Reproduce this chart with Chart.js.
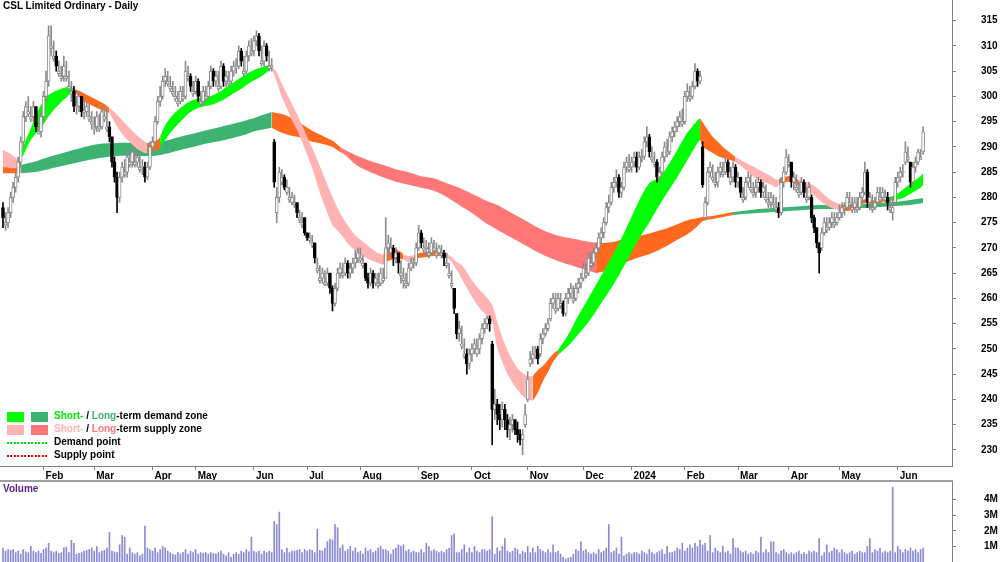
<!DOCTYPE html>
<html><head><meta charset="utf-8">
<script src="https://cdn.jsdelivr.net/npm/chart.js@4.4.1/dist/chart.umd.min.js"></script>
<style>
html,body{margin:0;padding:0;background:#fff;}
#wrap{position:relative;width:1000px;height:562px;overflow:hidden;font-family:"Liberation Sans",Arial,sans-serif;}
canvas{position:absolute;left:0;}
.t{position:absolute;font-weight:bold;font-size:10px;line-height:12px;white-space:nowrap;color:#000;}
.sw{position:absolute;width:17px;height:10px;}
.dl{position:absolute;width:40px;height:2px;}
</style></head>
<body><div id="wrap">
<canvas id="main" width="1000" height="481" style="top:0px;width:1000px;height:481px"></canvas>
<canvas id="vol" width="1000" height="80" style="top:482px;width:1000px;height:80px"></canvas>
<div style="position:absolute;left:0;top:480px;width:953px;height:2px;background:#a0a0a0"></div>
<div class="t" style="left:3px;top:0px">CSL Limited Ordinary - Daily</div>
<div class="t" style="left:3px;top:483px;color:#5b1e8c">Volume</div>
<div class="sw" style="left:7px;top:412px;background:#00ff00"></div>
<div class="sw" style="left:31px;top:412px;background:#3cb371"></div>
<div class="t" style="left:54px;top:410px"><span style="color:#00e600">Short-</span> / <span style="color:#3cb371">Long</span>-term demand zone</div>
<div class="sw" style="left:7px;top:425px;background:#ffb3b3"></div>
<div class="sw" style="left:31px;top:425px;background:#ff7777"></div>
<div class="t" style="left:54px;top:423px"><span style="color:#ffb3b3">Short-</span> / <span style="color:#ff7777">Long</span>-term supply zone</div>
<div class="dl" style="left:7px;top:442px;background:repeating-linear-gradient(90deg,#00e600 0 2px,transparent 2px 3.5px)"></div>
<div class="t" style="left:54px;top:436px">Demand point</div>
<div class="dl" style="left:7px;top:455px;background:repeating-linear-gradient(90deg,#ff0000 0 2px,transparent 2px 3.5px)"></div>
<div class="t" style="left:54px;top:449px">Supply point</div>
</div>
<script>
// ---- daily prices (trading-day index 0 = mid Jan 2023) ----
const opens = [
278,274.5,275,277,280,282,284,287,291,296,
296.5,295.5,296,298,292.8,293,296,300,303,309.5,
307.5,308,304.5,303.5,304,303.5,301.5,300.5,301,298,
298,300,297,297,295.5,294.5,293.5,294,293.5,294,
295.5,293.5,294,292,287,284,280,284,284.5,285,
286.5,287,286.5,287,285.5,286,286,284,286,290,
291,295,299,300,303,302.5,301.5,300.5,299.5,298.5,
299,299.5,300,303.5,304,300.5,301,303,298.5,299,
299.5,300,302,305,303,301.5,302,306,303,302.5,
303,305,306,306,309,304.5,305,308,308.5,309,
311,312,306.5,307,310,305.5,306,291,277,280,
283,284,281,279.5,279,278.5,279,275.5,274.5,276,
273,271.5,270.5,271,265.5,263.5,264,262.8,263,265,
262,259,262,265,264.5,265,267,265,266,267,
268,267.5,266.5,267,264,263,265,263,262.5,263,
263.5,264,270,269,270,268,269,264.5,263.5,262.5,
263,266,267,267,270,273,269.5,270,268.5,269,
269.5,268.5,269,268.5,269,266.5,264.5,262.5,262,257,
253,250.5,248.5,249,247,249,250,249,250,252,
254,255,256,251,238,239,237,236,238,236,
234,235,236,234,233,232,235,240,247,248,
249,250,249,252,253,254,256,259,257.5,258,
258.5,259,257,260,261,259.5,260,262,263,264,
264.5,265,266.5,267,269,270,272,273,275,278,
279,282,283,284,281,282,286,285.5,286,287,
288,286,288,288,291,292,287.5,286.5,287,284,
285,288,288.5,289,292,293,294,295,294.5,295,
300,299.5,300,302,305,303,290,276,279,285,
283.5,282.5,283,285,284.5,285,287,283,284,286,
283,284,279.5,280,283,281.5,280.5,281,282,283,
281,279.5,278.5,279,278.5,277.5,278,277,283,285,
286.5,287,283,281.5,280.5,281,283,279.5,280,280,
276,274,271,270,273,273.5,274,275,274.5,275,
276,277,278,278,278.5,277.5,278,277.5,278,280,
281,285,279,277.5,278,279,279.5,280,279.5,280,
277.5,277,279,283,284,285,287,287.5,287,283,
286,287,287.5,289];
const highs = [
279,277,278,281,283,285,288,292,297,299,
300,298,299,298,295,297,301,305,314,314,
311,309,307,306,308,307,305,303,302,300,
301,300,299,299,298.5,297,296,297,296.5,298,
298,297,295,292,288,285,285,287,287.5,289,
289,290,289.5,289,288.5,287.5,287,287,291,292,
296,300,302,304,305.5,305,304,303,302,301,
302,302,307,306,304.5,303,304,303.5,301,302,
302,303,306,305.5,305,305,307,306.5,305,305,
306,307,307.5,310,309.5,308,309,311,311.5,312,
313,312.5,310,311,310.5,309,307.5,291.5,282,286,
285.5,284.5,283.5,282,281,280.5,279,277.5,277,276,
273,273,272.5,271,268,266.5,266,265.5,266,265,
262.5,263,266,267,267,268,267.5,267,268,269.5,
270,270,268.5,267,265,266,265.5,265,265,266,
266,276,272.5,272,270.5,270,269,267.5,266,265,
267,268,268,271,274.5,273.5,272,271.5,271,272,
271.5,271,270.5,270.5,269.5,269,267,265.5,262,257,
255.5,254.5,252,250,250,251,252,252,253,255,
256,256.5,256.5,251.5,242,240,239,239.5,239,237,
236.5,237,236,235.5,234,234,239,245.5,249.5,250.5,
250.5,250.5,253,254,255,256,260,261,261,261,
261,259.5,261,262,263,262.5,263,264,265,267,
267,269,269,270,271,273,274,276,279,280.5,
283,284,285.5,284.5,283,287,288,288.5,288,289,
289,289,289.5,292,294,292.5,290,289,287.5,286,
289,291,291.5,293,294,295,296,297,297.5,301,
302.5,302,303,306.5,305.5,305,291,280,286,287,
286.5,285,286,287,287,288,287.5,286,287,286.5,
285,284,282,284,285,284.5,283,283.5,284,283.5,
283,282.5,281,281,280.5,280,279,284,286,289.5,
288.5,287,285,284.5,283,284,283.5,282,283,280.5,
276.5,274,271,274,276,276,276,277,277,277,
278.5,279,279,281,281,280,280,280,281,282,
287,285.5,281,280.5,280,282,282,282,281.5,281,
280,280,284,285,286,286.5,291,290,287,287,
288,289.5,289.5,294];
const lows = [
274,273.5,274,276,279,281,283,286,290,295,
296,295,295,293,292.5,292,295,299,302,308,
307,305,304,303,303,303,301,299,297,296.5,
297,296,295.5,296,295,293.5,292.5,293,293,293.5,
295,293,291,286,283,277,279,283,284,284,
286,286,286,286,285,284.5,283,283.5,285.5,289,
290.5,294.5,298,299.5,302,302,301,300,299,298,
298.5,299,299.5,303,301,300,300.5,299,298,298.5,
299,299.5,301.5,302,302,301,301.5,302,302,302,
302.5,304,304.5,305.5,306,304,304.5,307,308,308,
310,308,306,306,307,305,305,282,275,279,
282.5,281.5,280.5,279,278.5,278,276,275,274,272.5,
271.5,271,270,267,265,263,263,262.5,262.5,261,
257.5,258.5,261.5,264,264,264.5,264,264,265,266,
267,267,266,263.5,262,262.5,262,262.5,262,262.5,
263,264,269,268.5,266.5,267,265,263,262,262,
262.5,265.5,266,266.5,269.5,270,269,268.5,268,268.5,
269,268,268.5,268,266.5,266,264,262,257,252,
251.5,250,248,245,246,247.5,249,248.5,249,251,
253,254,253.5,231,236,235,234,234.5,234,232.5,
232,233.5,233,231.5,231,229,234.5,239.5,246.5,247,
248,247,248.5,251,252.5,253.5,255.5,258,257,257.5,
258,256.5,256.5,259,260,259,259.5,261,262,263.5,
264,264.5,266,266.5,268,269.5,271,272,274.5,277,
278.5,281,282,280,280,281.5,285,285,285,286,
285,285.5,287,287.5,290,288,287,286,283,283,
284.5,287,288,288.5,291,292,293,294,294,294.5,
299,299,299.5,301.5,302,302.5,282,275.5,278.5,284,
283,282,282,284,284,284.5,284,282.5,283,282,
282,280,279,279.5,282,281,280,280,281,280,
280,279,278,278,278,277,276,276.5,282,284.5,
286,282,281.5,281,280,280.5,280,279,279.5,275,
273,270,265,269.5,272.5,273,273.5,274,274,274.5,
275.5,276,276.5,277.5,278,277,277,277,277.5,279,
280.5,278,277.5,277,277.5,278.5,279,279.5,279,277.5,
277,275.5,278.5,282,283,284,286.5,287,282,282.5,
285,286.5,287.5,288.5];
const closes = [
276,275,277,280,282,284,287,291,296,298,
297,296,298,294,293,296,300,303,312,310,
308,306,305,304,306,304,302,301,298,298,
300,297,297,298,296,295,294,296,294,297,
296,294,292,287,284,280,284,286,285,288,
287,289,287,288,286,286,284,286,290,291,
295,299,300,303,304,303,302,301,300,299,
301,300,305,304,302,301,303,300,299,301,
300,302,305,303,304,302,306,303,304,303,
305,306,306,309,307,305,308,310,309,311,
312,309,307,310,308,306,306,283,280,285,
284,282,282,280,280,279,277,276,275,273,
272,272,271,268,266,264,265,263,265,262,
259,262,265,266,265,267,265,266,267,268,
269,268,267,264,263,265,263,264,263,265,
264,270,271,270,268,269,267,265,264,263,
266,267,267,270,273,271,270,270,269,271,
270,269,270,269,268,267,265,263,258,253,
254,251,249,247,249,250,251,250,252,254,
255,256,255,238,239,237,236,238,236,234,
235,236,234,233,232,233,237,244,248,249,
249,248,252,253,254,255,259,260,258,260,
259,257,260,261,262,260,262,263,264,266,
265,268,267,269,270,272,273,275,278,279,
282,283,284,281,282,286,287,286,287,288,
286,288,288,291,292,289,288,287,284,285,
288,290,289,292,293,294,295,296,295,300,
301,300,302,305,303,304,282.5,279,285,286,
284,283,285,286,285,287,285,284,286,283,
284,281,280,283,284,282,281,282,283,281,
282,280,279,280,279,278,277,283,285,288,
287,283,284,282,281,283,281,280,282,276,
274,271,269,273,275,274,275,276,275,276,
277,278,278,280,279,278,279,278,280,281,
285,279,280,278,279,281,280,281,280,279,
278,278,283,284,285,285,289,288,283,286,
287,289,288,293];
// ---- daily volume, millions of shares ----
const volumesM = [
0.9,0.7,0.8,0.75,0.8,0.6,0.7,0.5,0.8,0.65,
0.6,1.0,0.7,0.6,0.7,0.55,0.8,0.9,1.2,0.7,
0.6,0.7,0.55,0.6,0.9,0.95,0.6,1.4,1.2,0.5,
0.55,0.6,0.7,0.75,0.8,0.9,0.7,1.0,0.6,0.7,
0.75,0.9,1.9,0.7,0.65,0.6,1.1,1.7,1.6,0.5,
0.9,0.6,0.5,0.6,0.4,0.5,2.3,0.9,0.8,0.7,
0.9,0.6,0.8,1.0,0.9,0.7,0.6,0.5,0.45,0.6,
0.5,0.6,0.8,0.5,0.7,0.6,0.8,0.5,0.6,0.55,
0.6,0.5,0.6,0.55,0.5,0.6,0.7,0.5,0.4,0.6,
0.3,0.5,0.6,0.5,0.7,0.6,0.8,0.65,1.6,0.7,
0.6,0.7,0.5,0.7,0.6,0.7,0.6,2.6,2.4,3.2,
0.8,0.6,0.9,0.6,0.7,0.7,0.75,0.8,0.6,0.8,
0.7,0.8,0.75,0.6,2.1,0.75,0.7,0.9,1.3,1.45,
1.4,2.4,2.2,0.9,1.1,0.7,0.8,1.0,0.7,0.9,
0.6,0.7,0.5,0.9,0.7,0.8,0.6,0.7,0.9,1.0,
0.8,0.8,0.7,0.5,0.8,0.9,1.1,1.0,1.1,0.7,
0.8,0.6,0.7,0.6,0.6,0.8,0.6,1.2,1.0,0.7,
0.8,0.7,0.6,0.7,0.6,0.8,0.9,1.7,1.8,0.6,
0.6,0.8,1.1,0.6,0.9,0.6,1.0,0.7,0.6,0.8,
0.8,0.7,0.8,2.9,0.5,0.9,0.7,1.0,1.5,0.7,
0.6,0.7,0.9,0.8,0.5,0.7,0.6,1.0,0.6,0.9,
0.6,1.0,0.8,0.7,0.6,0.8,0.6,1.1,0.6,0.7,
0.5,0.3,0.2,0.25,0.3,0.5,0.8,0.7,1.3,0.7,
0.8,0.6,0.5,0.6,0.5,0.8,0.6,0.7,0.9,2.4,
0.6,0.7,0.9,0.5,1.6,0.4,0.5,0.6,0.5,0.6,
0.6,0.5,0.7,0.6,0.5,0.8,0.6,0.5,0.6,0.7,
0.8,0.5,1.0,0.6,0.6,0.7,0.9,0.8,1.2,0.7,
0.9,1.1,0.9,1.2,1.0,1.4,1.1,1.2,0.7,1.7,
0.6,0.9,0.7,0.6,1.0,0.6,0.7,0.5,1.5,0.9,
0.9,0.7,0.6,0.7,0.5,0.6,0.5,0.7,0.6,1.6,
0.6,0.8,0.6,1.3,1.3,0.6,0.5,0.7,0.8,0.6,
0.5,0.6,0.5,0.6,0.7,0.5,0.6,0.5,0.7,0.6,
0.7,0.6,1.5,0.4,0.6,1.1,0.6,0.7,0.9,0.8,
0.6,0.8,0.6,0.5,0.6,0.7,0.5,0.6,0.7,0.6,
0.6,1.0,1.5,0.6,0.8,0.7,0.9,0.6,0.7,0.6,
0.7,4.8,0.6,1.0,0.8,0.6,0.8,0.7,0.9,0.7,
0.8,0.6,0.8,0.9];
// ---- month ticks ----
const monthTickIdx = [16,36,59,76,99,120,141,164,185,207,229,248,269,290,310,330,353];
const monthLabels = ['Feb','Mar','Apr','May','Jun','Jul','Aug','Sep','Oct','Nov','Dec','2024','Feb','Mar','Apr','May','Jun'];
const volumeTicks = [1,2,3,4];
// ---- short-term zone ribbon (edges) ----
const shortIdx = [0,3,5,6,7,9,11,13,15,17,20,23,26,28,31,34,37,40,42,44,47,50,53,56,57,59,61,62,64,67,70,74,78,82,86,90,94,98,102,105,106,108,110,112,114,116,118,120,122,124,126,128,130,133,136,139,142,145,148,150,151,153,155,157,158,160,162,164,167,170,173,175,177,179,181,185,188,191,193,195,197,199,201,203,205,207,209,211,213,215,217,219,223,227,231,235,239,243,247,251,255,259,262,266,270,274,275,276,278,280,282,284,286,288,289,291,294,297,300,303,305,306,308,310,312,314,316,318,320,322,324,326,328,330,331,333,335,337,339,341,343,345,348,350,352,354,356,358,360,362,363];
const shortUpper = [289.4,288.6,287.8,287.4,289.0,291.4,293.7,296.3,298.3,299.9,300.9,301.5,301.9,301.5,300.9,300.1,299.3,298.5,297.7,296.9,295.3,293.7,292.2,291.0,290.6,291.2,291.4,292.0,294.3,296.3,297.7,299.1,299.7,300.1,301.1,302.5,303.8,305.0,305.8,306.2,306.0,304.8,302.5,300.5,298.5,296.5,294.3,292.0,289.8,287.4,285.0,282.5,280.1,276.9,274.5,272.5,271.2,270.0,269.0,268.6,269.8,270.2,269.8,269.2,268.7,268.4,268.5,269.0,269.2,269.4,269.2,268.8,268.2,267.2,266.6,263.6,261.7,260.1,258.7,255.3,252.2,249.8,247.8,246.2,245.2,244.6,244.6,245.8,246.6,247.8,249.0,249.8,252.8,256.6,260.1,263.6,267.2,270.9,275.1,279.4,282.8,284.0,286.0,289.4,292.8,295.3,295.7,294.9,293.4,292.0,291.0,290.0,289.2,288.4,288.0,287.4,286.6,285.8,285.0,284.2,283.5,283.6,284.0,284.2,284.0,283.4,283.2,282.8,282.3,281.5,280.5,279.7,279.1,278.7,278.6,278.5,278.7,278.9,279.5,279.7,279.5,279.3,279.7,280.1,280.5,281.1,281.9,282.7,283.5,284.2,284.8];
const shortLower = [286.0,285.8,285.8,286.2,287.4,289.4,291.4,292.7,293.7,295.3,297.3,298.9,300.3,301.1,299.3,298.5,297.7,297.1,296.7,294.9,292.6,290.9,289.6,288.8,288.8,289.2,289.4,290.0,291.4,293.4,295.0,296.9,297.9,298.3,299.1,300.3,301.5,302.9,304.0,305.2,305.6,302.9,299.9,297.7,295.3,293.4,291.0,288.4,285.8,282.5,279.5,276.9,274.5,272.9,270.9,269.4,268.4,267.6,267.0,266.6,267.2,267.6,267.8,267.8,267.7,267.2,267.5,268.0,268.2,268.4,268.4,268.2,267.2,265.6,263.9,260.3,258.1,256.5,255.3,250.1,247.4,245.0,243.3,241.9,240.7,239.9,239.7,241.3,243.6,245.4,247.4,248.8,250.6,252.9,255.3,258.3,261.3,264.6,268.2,271.9,275.1,278.5,280.9,284.0,287.4,290.8,291.4,290.2,289.4,288.8,288.2,287.8,287.6,287.2,287.0,286.2,285.0,283.8,283.1,282.5,282.0,282.4,282.9,283.1,282.9,282.2,281.7,281.1,280.5,279.5,278.7,278.1,277.7,277.5,277.4,277.3,277.5,277.9,278.7,278.9,278.7,278.7,279.3,279.3,279.5,279.7,280.1,280.7,281.3,281.9,282.5];
const shortZoneStart = [0,6,28,42,57,62,106,150,158,162,175,209,219,275,289,306,314,331,348];
const shortZoneCode  = ['P','G','O','P','O','G','P','O','P','O','P','O','G','O','P','O','P','O','G'];
// ---- long-term zone ribbon ----
const longIdx = [0,4,7,12,18,25,32,38,45,52,58,62,70,78,86,94,100,106,110,114,118,122,126,130,133,135,140,145,150,155,160,165,170,175,180,185,190,195,200,205,210,215,220,225,230,234,238,242,246,250,254,258,262,266,270,274,276,280,284,288,292,298,304,310,316,322,328,334,340,346,352,358,363];
const longUpper = [286.8,286.7,286.4,287.0,288.0,289.0,290.0,290.6,290.8,290.8,290.8,291.0,292.0,293.0,294.0,295.0,295.9,296.9,296.5,295.7,294.5,293.2,292.2,291.2,290.0,289.4,288.2,287.2,286.4,285.6,285.0,284.2,283.8,282.8,281.9,280.7,279.5,278.5,277.1,275.7,274.3,273.1,272.3,271.8,271.3,271.0,271.0,271.3,271.9,272.3,272.7,273.3,273.9,274.7,275.5,275.9,276.1,276.3,276.7,277.1,277.3,277.7,277.9,278.1,278.3,278.5,278.5,278.5,278.7,278.9,279.1,279.5,279.9];
const longLower = [284.8,284.8,284.8,285.0,285.6,286.4,287.2,287.8,288.2,288.2,288.2,288.4,289.4,290.4,291.2,292.2,293.2,293.8,292.8,292.2,291.8,291.0,290.6,290.0,289.0,288.4,286.2,285.0,284.0,283.1,282.5,281.9,281.3,280.1,278.5,276.9,275.1,273.6,272.2,270.8,269.4,268.2,267.2,266.4,265.6,265.0,265.4,266.2,267.2,268.0,268.6,269.4,270.4,271.6,272.7,274.3,275.3,275.7,276.1,276.5,276.7,276.9,277.1,277.3,277.5,277.7,277.7,277.9,277.9,278.1,278.3,278.5,278.9];
const longZoneStart = [0,7,106,133,234,288];
const longZoneCode  = ['O','G','O','S','O','G'];

// ---- styling ----
const shortColors = {G:'#00ff00', P:'#ffb3b3', O:'#ff6a1f'};
const longColors  = {G:'#3cb371', S:'#ff7777', O:'#ff6a1f'};
const X_MIN = -1.18, X_MAX = 374.4;
const FONT = {family:"'Liberation Sans', Arial, sans-serif", size:10, weight:'bold'};
Chart.defaults.font.family = FONT.family;

function zoneAt(x, starts, codes){ let c = codes[0]; for (let k=0;k<starts.length;k++){ if (starts[k] <= x) c = codes[k]; } return c; }
function ribbonSets(idx, up, lo, starts, codes, cmap, order){
  const sets = []; let k = 0;
  while (k < idx.length - 1){
    const z = zoneAt(idx[k], starts, codes);
    let e = k + 1;
    while (e < idx.length - 1 && zoneAt(idx[e], starts, codes) === z) e++;
    const U = [], L = [];
    for (let j = k; j <= e; j++){ U.push({x:idx[j], y:up[j]}); L.push({x:idx[j], y:lo[j]}); }
    sets.push({type:'line', data:U, fill:'+1', backgroundColor:cmap[z], borderColor:'rgba(0,0,0,0)', borderWidth:0, pointRadius:0, tension:0.3, order});
    sets.push({type:'line', data:L, fill:false, borderColor:'rgba(0,0,0,0)', borderWidth:0, pointRadius:0, tension:0.3, order});
    k = e;
  }
  return sets;
}

const isUp = i => closes[i] >= opens[i];
const wickData = closes.map((c,i) => ({x:i, y:[lows[i], highs[i]]}));
const bodyData = closes.map((c,i) => {
  let a = Math.min(opens[i], c), b = Math.max(opens[i], c);
  if (b - a < 0.3) { a -= 0.15; b += 0.15; }
  return {x:i, y:[a, b]};
});

const datasets = [
  {type:'bar', data:wickData, barThickness:1, grouped:false, order:1,
   backgroundColor: ctx => isUp(ctx.dataIndex) ? '#8c8c8c' : '#000000'},
  {type:'bar', data:bodyData, barThickness:3, grouped:false, order:0, borderWidth:1, borderSkipped:false,
   backgroundColor: ctx => isUp(ctx.dataIndex) ? '#ffffff' : '#000000',
   borderColor: ctx => isUp(ctx.dataIndex) ? '#8c8c8c' : '#000000'},
  ...ribbonSets(shortIdx, shortUpper, shortLower, shortZoneStart, shortZoneCode, shortColors, 2),
  ...ribbonSets(longIdx, longUpper, longLower, longZoneStart, longZoneCode, longColors, 3)
];

new Chart(document.getElementById('main'), {
  type:'bar',
  data:{datasets},
  options:{
    responsive:false, animation:false, events:[], devicePixelRatio:1,
    layout:{padding:{left:0,right:2,top:0,bottom:0}},
    plugins:{legend:{display:false}, tooltip:{enabled:false}},
    scales:{
      x:{type:'linear', position:'bottom', min:X_MIN, max:X_MAX, offset:false,
         afterBuildTicks: s => { s.ticks = monthTickIdx.map(v => ({value:v})); },
         afterFit: s => { s.height = 15; s.paddingLeft = 0; s.paddingRight = 0; },
         ticks:{align:'start', labelOffset:2, padding:0, autoSkip:false, maxRotation:0, color:'#000', font:FONT,
                callback:(v,i) => monthLabels[i]},
         grid:{drawOnChartArea:false, drawTicks:true, tickLength:4, color:'#808080', offset:false},
         border:{color:'#808080', width:1}},
      y:{type:'linear', position:'right', min:226.8, max:319.1,
         afterFit: s => { s.width = 46; s.paddingTop = 0; s.paddingBottom = 0; },
         ticks:{stepSize:5, includeBounds:false, padding:25, color:'#000', font:FONT},
         grid:{drawOnChartArea:false, drawTicks:true, tickLength:4, color:'#808080'},
         border:{color:'#808080', width:1}}
    }
  }
});

new Chart(document.getElementById('vol'), {
  type:'bar',
  data:{datasets:[{data: volumesM.map((v,i) => ({x:i, y:v})), backgroundColor:'#8a8ad6', barThickness:1, grouped:false}]},
  options:{
    responsive:false, animation:false, events:[], devicePixelRatio:1,
    layout:{padding:{left:0,right:2,top:0,bottom:0}},
    plugins:{legend:{display:false}, tooltip:{enabled:false}},
    scales:{
      x:{type:'linear', display:false, min:X_MIN, max:X_MAX, offset:false},
      y:{type:'linear', position:'right', min:0, max:5.13,
         afterBuildTicks: s => { s.ticks = volumeTicks.map(v => ({value:v})); },
         afterFit: s => { s.width = 46; s.paddingTop = 0; s.paddingBottom = 0; },
         ticks:{padding:28, color:'#000', font:FONT, callback: v => v + 'M'},
         grid:{drawOnChartArea:false, drawTicks:true, tickLength:4, color:'#808080'},
         border:{color:'#808080', width:1}}
    }
  }
});
</script>
</body></html>
